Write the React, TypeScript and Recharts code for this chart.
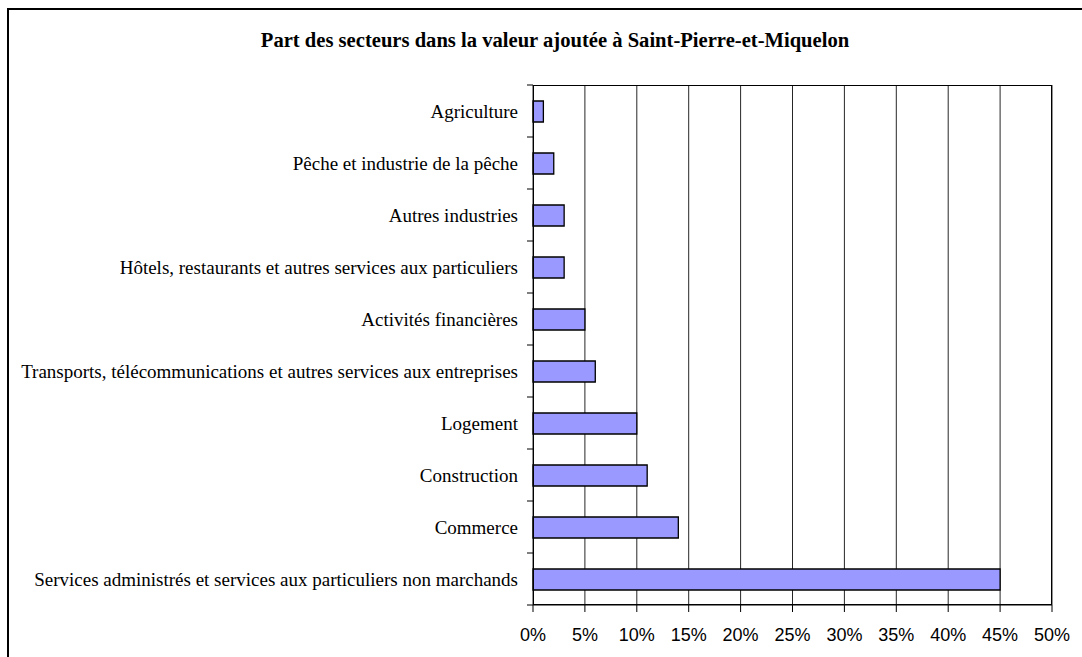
import { BarChart, Bar, XAxis, YAxis, CartesianGrid } from 'recharts';

const sectors = [
  'Agriculture',
  'Pêche et industrie de la pêche',
  'Autres industries',
  'Hôtels, restaurants et autres services aux particuliers',
  'Activités financières',
  'Transports, télécommunications et autres services aux entreprises',
  'Logement',
  'Construction',
  'Commerce',
  'Services administrés et services aux particuliers non marchands',
];
const shares = [1, 2, 3, 3, 5, 6, 10, 11, 14, 45];
const xTicks = [0, 5, 10, 15, 20, 25, 30, 35, 40, 45, 50];

const data = sectors.map((name, i) => ({ name, value: shares[i] }));

const W = 1082;
const H = 657;
const MARGIN = { top: 85, right: 30, left: 8, bottom: 12 };
const Y_WIDTH = 525;
const X_HEIGHT = 40;
const PLOT_H = H - MARGIN.top - MARGIN.bottom - X_HEIGHT;
const HALF_BAND = PLOT_H / sectors.length / 2;
const TICK_SIZE = 6;
const TICK_MARGIN = 9;

const CategoryTick = (props: any) => {
  const { x, y, payload, index } = props;
  const axisX = x + TICK_SIZE + TICK_MARGIN;
  return (
    <g>
      <text
        x={x}
        y={y}
        dy="0.355em"
        textAnchor="end"
        fill="#000"
        fontSize={19}
        fontFamily='"Liberation Serif", "Times New Roman", serif'
      >
        {payload.value}
      </text>
      <line x1={axisX - TICK_SIZE} x2={axisX} y1={y - HALF_BAND} y2={y - HALF_BAND} stroke="#000" />
      {index === sectors.length - 1 && (
        <line x1={axisX - TICK_SIZE} x2={axisX} y1={y + HALF_BAND} y2={y + HALF_BAND} stroke="#000" />
      )}
    </g>
  );
};

export default function App() {
  return (
    <div
      style={{
        position: 'absolute',
        left: 0,
        top: 0,
        width: W,
        height: H,
        overflow: 'hidden',
        background: '#fff',
      }}
    >
      <div
        style={{
          position: 'absolute',
          left: 7,
          top: 8,
          width: 1100,
          height: 700,
          border: '2px solid #000',
        }}
      />
      <div
        style={{
          position: 'absolute',
          left: 0,
          top: 29,
          width: 1110,
          textAlign: 'center',
          fontFamily: '"Liberation Serif", serif',
          fontWeight: 'bold',
          fontSize: 20.6,
        }}
      >
        Part des secteurs dans la valeur ajoutée à Saint-Pierre-et-Miquelon
      </div>
      <div style={{ position: 'absolute', left: 0, top: 0 }}>
        <BarChart width={W} height={H} data={data} layout="vertical" margin={MARGIN} barSize={21}>
          <CartesianGrid horizontal={false} stroke="#000" strokeOpacity={0.85} />
          <XAxis
            type="number"
            domain={[0, 50]}
            ticks={xTicks}
            tickFormatter={(v: number) => `${v}%`}
            height={X_HEIGHT}
            tickSize={7}
            tickMargin={16}
            stroke="#000"
            tick={{ fill: '#000', fontSize: 18, fontFamily: '"Liberation Sans", Arial, sans-serif' }}
          />
          <YAxis
            type="category"
            dataKey="name"
            width={Y_WIDTH}
            tickLine={false}
            axisLine={false}
            tickSize={TICK_SIZE}
            tickMargin={TICK_MARGIN}
            tick={<CategoryTick />}
            interval={0}
          />
          <Bar
            dataKey="value"
            fill="#9999FF"
            stroke="#000"
            strokeWidth={1.3}
            isAnimationActive={false}
          />
        </BarChart>
      </div>
      <div
        style={{
          position: 'absolute',
          left: 533,
          top: 85,
          width: 519,
          height: 520,
          border: '1.5px solid #000',
          boxSizing: 'border-box',
          pointerEvents: 'none',
        }}
      />
    </div>
  );
}
